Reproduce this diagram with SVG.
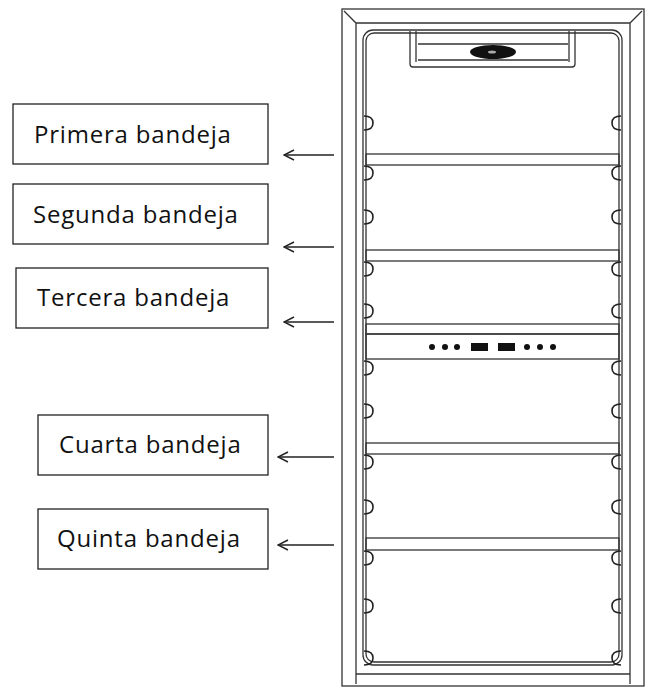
<svg xmlns="http://www.w3.org/2000/svg" width="648" height="689" viewBox="0 0 648 689">
<style>
.l{fill:none;stroke:#333;stroke-width:1.3}
.b{fill:#fff;stroke:#222;stroke-width:1.3}
.t{font-family:"Open Sans","Liberation Sans",sans-serif;font-size:24px;letter-spacing:0.8px;fill:#111}
.a{fill:none;stroke:#222;stroke-width:1.4}
.c{fill:none;stroke:#222;stroke-width:1.6}
</style>
<defs>
<marker id="ah" viewBox="0 0 12 12" refX="11" refY="6" markerWidth="12" markerHeight="12" markerUnits="userSpaceOnUse" orient="auto"><path d="M1,1 L11,6 L1,11" fill="none" stroke="#222" stroke-width="1.4"/></marker>
<path id="cl" d="M0,0 Q9,0 9,7 Q9,14 0,14" class="c"/>
<path id="cr" d="M0,0 Q-9,0 -9,7 Q-9,14 0,14" class="c"/>
</defs>
<g id="fridge">
<rect x="342" y="9" width="302" height="677" class="l"/>
<path d="M344,11 L356,23 L630,23 L642,11 M356,23 L356,684 M630,23 L630,684" class="l"/>
<rect x="363" y="30" width="259" height="635" rx="10" class="l" stroke-width="2"/>
<rect x="366" y="33" width="253" height="629" rx="8" class="l"/>
<line x1="356" y1="674" x2="630" y2="674" class="l"/>
<g id="light">
<path d="M410,31 L410,64 Q410,67 413,67 L572,67 Q575,67 575,64 L575,31" class="l"/>
<line x1="416" y1="31" x2="416" y2="62" class="l"/><line x1="569" y1="31" x2="569" y2="62" class="l"/>
<line x1="418" y1="44" x2="568" y2="44" class="l"/><line x1="418" y1="60" x2="568" y2="60" class="l"/>
<ellipse cx="493" cy="52" rx="23" ry="7" fill="#111"/>
<ellipse cx="492" cy="52" rx="4" ry="1.5" fill="#aaa"/>
</g>
<g id="shelves">
<rect x="366" y="154" width="253" height="11" class="l"/>
<rect x="366" y="250" width="253" height="11" class="l"/>
<rect x="366" y="324" width="253" height="10" class="l"/>
<rect x="366" y="334" width="253" height="25" class="l" stroke-width="1.8"/>
<rect x="366" y="443" width="253" height="11" class="l"/>
<rect x="366" y="538" width="253" height="12" class="l"/>
</g>
<g id="controls" fill="#111">
<circle cx="432" cy="347" r="3"/><circle cx="445" cy="347" r="3"/><circle cx="457" cy="347" r="3"/>
<rect x="471" y="343" width="17" height="8"/><rect x="498" y="343" width="17" height="8"/>
<circle cx="527" cy="347" r="3"/><circle cx="540" cy="347" r="3"/><circle cx="553" cy="347" r="3"/>
</g>
<g id="clips">
<use href="#cl" x="364" y="116"/><use href="#cl" x="364" y="166"/><use href="#cl" x="364" y="210"/><use href="#cl" x="364" y="262"/><use href="#cl" x="364" y="304"/><use href="#cl" x="364" y="361"/><use href="#cl" x="364" y="404"/><use href="#cl" x="364" y="455"/><use href="#cl" x="364" y="500"/><use href="#cl" x="364" y="551"/><use href="#cl" x="364" y="599"/><use href="#cl" x="364" y="651"/>
<use href="#cr" x="621" y="116"/><use href="#cr" x="621" y="166"/><use href="#cr" x="621" y="210"/><use href="#cr" x="621" y="262"/><use href="#cr" x="621" y="304"/><use href="#cr" x="621" y="361"/><use href="#cr" x="621" y="404"/><use href="#cr" x="621" y="455"/><use href="#cr" x="621" y="500"/><use href="#cr" x="621" y="551"/><use href="#cr" x="621" y="599"/><use href="#cr" x="621" y="651"/>
</g>
</g>
<g id="label1"><rect x="13" y="104" width="255" height="60" class="b"/><text x="34" y="143" class="t">Primera bandeja</text></g>
<g id="label2"><rect x="13" y="184" width="255" height="60" class="b"/><text x="33" y="223" class="t">Segunda bandeja</text></g>
<g id="label3"><rect x="16" y="268" width="252" height="60" class="b"/><text x="37" y="306" class="t">Tercera bandeja</text></g>
<g id="label4"><rect x="38" y="415" width="230" height="60" class="b"/><text x="59" y="453" class="t">Cuarta bandeja</text></g>
<g id="label5"><rect x="38" y="509" width="230" height="60" class="b"/><text x="57" y="547" class="t">Quinta bandeja</text></g>
<g id="connectors">
<line x1="334" y1="155" x2="284" y2="155" class="a" marker-end="url(#ah)"/>
<line x1="334" y1="247" x2="284" y2="247" class="a" marker-end="url(#ah)"/>
<line x1="334" y1="322" x2="284" y2="322" class="a" marker-end="url(#ah)"/>
<line x1="334" y1="457" x2="278" y2="457" class="a" marker-end="url(#ah)"/>
<line x1="334" y1="545" x2="278" y2="545" class="a" marker-end="url(#ah)"/>
</g>
</svg>
